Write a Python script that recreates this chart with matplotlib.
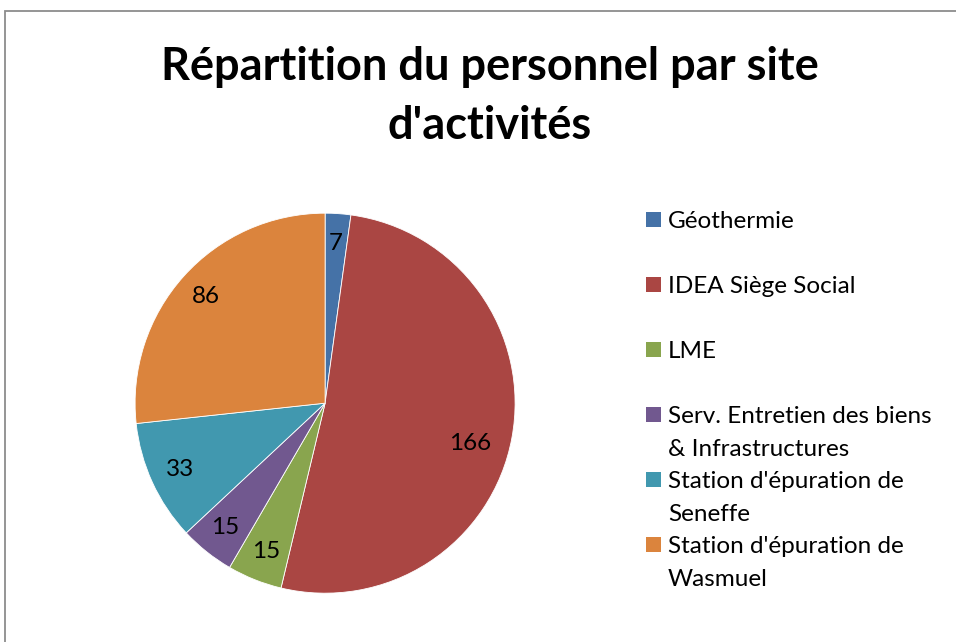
import matplotlib
matplotlib.use("Agg")
import numpy as np
import matplotlib.pyplot as plt
from matplotlib.patches import Rectangle

plt.rcParams['font.family'] = ['Lato', 'DejaVu Sans']

title = "Répartition du personnel par site\nd'activités"
sites = ["Géothermie", "IDEA Siège Social", "LME",
         "Serv. Entretien des biens\n& Infrastructures",
         "Station d'épuration de\nSeneffe",
         "Station d'épuration de\nWasmuel"]
staff = [7, 166, 15, 15, 33, 86]
colors = ['#4572A7', '#AA4643', '#89A54E', '#71588F', '#4198AF', '#DB843D']

W, H = 956, 642
fig = plt.figure(figsize=(W / 100, H / 100), dpi=100)

# chart area border (top and left visible only)
fig.patches.append(Rectangle((5 / W, -0.5), 2, 1 - 11 / H + 0.5, transform=fig.transFigure,
                             fill=False, edgecolor='#8c8c8c', linewidth=1.3))

fig.text(0.512, 1 - 96.5 / H, title, ha='center', va='center', fontsize=32.5,
         fontweight='bold', linespacing=1.5)

ax = fig.add_axes([0.1413, 0.076, 0.3975, 0.592])
wedges, texts, autotexts = ax.pie(
    staff, colors=colors, startangle=90, counterclock=False, radius=1,
    autopct=lambda p: '%d' % round(p * sum(staff) / 100.0),
    pctdistance=0.84, wedgeprops=dict(edgecolor='white', linewidth=0.6),
    textprops=dict(fontsize=17.5, color='black'))
# Excel's best-fit places the big slice label a bit lower
a = np.deg2rad(-15.4)
autotexts[1].set_position((0.79 * np.cos(a), 0.79 * np.sin(a)))
ax.set_xlim(-1, 1)
ax.set_ylim(-1, 1)
ax.set_aspect('equal')
ax.axis('off')

# legend, one entry every 65 px
for i, (name, c) in enumerate(zip(sites, colors)):
    base = 228 + 65 * i
    fig.patches.append(Rectangle((646 / W, 1 - (base - 1) / H), 15 / W, 15 / H,
                                 transform=fig.transFigure, facecolor=c, edgecolor='none'))
    for j, line in enumerate(name.split('\n')):
        fig.text(668 / W, 1 - (base + 33 * j) / H, line, ha='left', va='baseline',
                 fontsize=17.5)

fig.savefig("out.png", dpi=100)
